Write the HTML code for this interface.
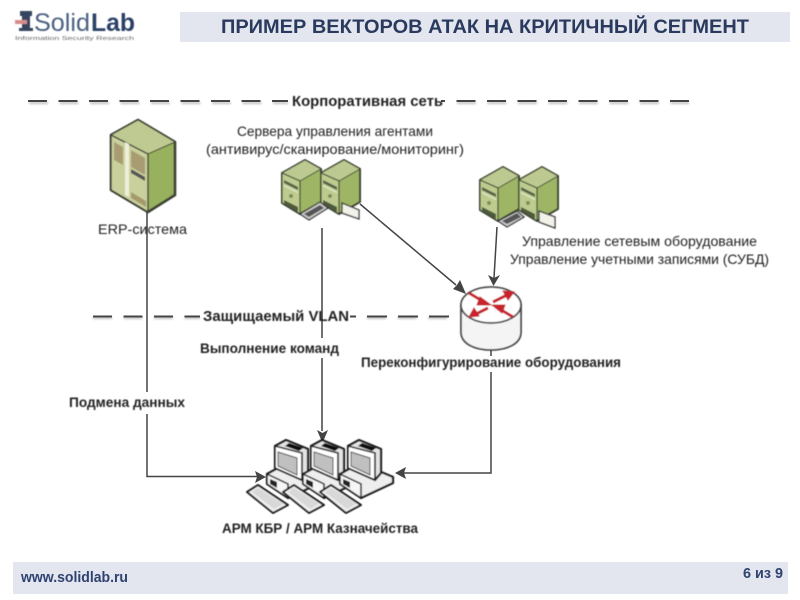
<!DOCTYPE html>
<html><head><meta charset="utf-8"><style>
html,body{margin:0;padding:0;background:#fff}
svg{display:block}
text{font-family:"Liberation Sans",sans-serif}
</style></head><body>
<svg width="800" height="600" viewBox="0 0 800 600" xmlns="http://www.w3.org/2000/svg">
<defs>
<filter id="b" x="-5%" y="-5%" width="110%" height="110%"><feGaussianBlur stdDeviation="0.4"/></filter>
<filter id="s" x="-5%" y="-200%" width="110%" height="500%"><feGaussianBlur stdDeviation="1"/></filter>
<g id="srv">
<path d="M0,13 L23,0 L39,9 L39,42 L18,54 L0,43Z" fill="#9db565" stroke="#3c4433" stroke-width="2" stroke-linejoin="round"/>
<path d="M0,13 L23,0 L39,9 L18,21Z" fill="#bcc990" stroke="#3c4433" stroke-width="1"/>
<path d="M0,13 L18,21 L18,54 L0,43Z" fill="#bdcc8e" stroke="#3c4433" stroke-width="1.200"/>
<path d="M2,20 L16,27 L16,30 L2,23Z" fill="#55604a"/>
<path d="M2,25 L16,32 L16,33 L2,26Z" fill="#eef2dc"/>
<circle cx="9" cy="36" r="2" fill="#7d8c5a"/>
<path d="M2,40 L16,47 L16,52 L2,44Z" fill="#4e5a3d"/>
</g>
<g id="pc">
<path d="M-5,33 L15,22 L48,36 L48,42 L16,57 L-5,43Z" fill="#eee" stroke="#1c1c1c" stroke-width="2.200" stroke-linejoin="round"/>
<path d="M-5,33 L16,43 L16,57 L-5,43Z" fill="#f6f6f6" stroke="#1c1c1c" stroke-width="1.500"/>
<path d="M-2,38 L5,41 L5,47 L-2,43Z" fill="#222"/>
<path d="M3,5 L14,-1 L36,8 L36,32 L30,39 L3,27Z" fill="#e4e4e4" stroke="#1c1c1c" stroke-width="2.200" stroke-linejoin="round"/>
<path d="M3,5 L30,12 L30,39 L3,27Z" fill="#fff" stroke="#1c1c1c" stroke-width="1.600"/>
<path d="M6,11 L25,17 L25,34 L6,25Z" fill="#c0c0c0" stroke="#444" stroke-width="1"/>
<path d="M17,2 L31,7 L27,10 L13,5Z" fill="#111"/>
<path d="M-25,51 L-14,44 L16,64 L1,72Z" fill="#efefef" stroke="#1c1c1c" stroke-width="2" stroke-linejoin="round"/>
<path d="M-20,51 L-14,47 L11,63 L2,68Z" fill="#d8d8d8"/>
</g>
</defs>

<rect x="180" y="12" width="610" height="30" fill="#e3e6ee"/>
<text x="221" y="33" font-size="19" font-weight="bold" fill="#2a3a5e" textLength="528" lengthAdjust="spacingAndGlyphs">ПРИМЕР ВЕКТОРОВ АТАК НА КРИТИЧНЫЙ СЕГМЕНТ</text>

<g filter="url(#b)">
<path d="M22,16 H30 V28 H22Z M19,28 H33 V31 H19Z M20,11 h12 v5 h-12Z" fill="#34455f"/>
<rect x="15" y="20" width="12" height="4" fill="#d98c8c"/>
<text x="34" y="31" font-size="25" fill="#4b6080" textLength="56" lengthAdjust="spacingAndGlyphs">Solid</text>
<text x="91" y="31" font-size="25" font-weight="bold" fill="#2a3f66" textLength="44" lengthAdjust="spacingAndGlyphs">Lab</text>
<text x="15" y="40" font-size="5.500" fill="#666" textLength="119" lengthAdjust="spacingAndGlyphs">Information Security Research</text>
</g>

<g filter="url(#s)" opacity=".5"><path d="M29,103 H288 M457,103 H689 M93,318 H200 M367,318 H449" fill="none" stroke="#777" stroke-width="2" stroke-dasharray="19 11.500"/></g>
<path d="M28,101 H288 M456.500,101 H689" fill="none" stroke="#444" stroke-width="2" stroke-dasharray="19 11.500"/>
<path d="M93,316.500 H200" fill="none" stroke="#444" stroke-width="2" stroke-dasharray="19 11.500"/>
<path d="M367,316.500 H449" fill="none" stroke="#444" stroke-width="2" stroke-dasharray="20 11"/>
<path d="M350,316.500 H356 M441,101 H445" fill="none" stroke="#444" stroke-width="2"/>

<g fill="none" stroke="#444" stroke-width="1.500">
<path d="M147,212 V392 M147,414 V476.500 H257"/>
<path d="M322,228 V338 M322,358 V431"/>
<path d="M360,204 L456,285"/>
<path d="M497,227 L494,278"/>
<path d="M491,350 V356 M491,372 V473 H404"/>
</g>
<g fill="#444">
<path d="M266,477 L255,471 L257,477 L255,483Z"/>
<path d="M322.500,443 L317,430 L322.500,433 L328,430Z"/>
<path d="M466,294 L453,289 L457,285 L460,280Z"/>
<path d="M493.500,286 L488,275 L494,278 L500,275Z"/>
<path d="M395,473 L406,467 L404,473 L406,479Z"/>
</g>

<g filter="url(#b)">
<path d="M111,135 L138,120 L175,142 L175,195 L148,212 L111,190Z" fill="#98b15f" stroke="#3a4030" stroke-width="2.600" stroke-linejoin="round"/>
<path d="M111,135 L138,120 L175,142 L148,154Z" fill="#bfca92" stroke="#3a4030" stroke-width="1"/>
<path d="M111,135 L148,154 L148,212 L111,190Z" fill="#c9d09c" stroke="#3a4030" stroke-width="1.400"/>
<path d="M125,142 L129,144 L129,197 L125,195Z" fill="#efeedd"/>
<path d="M114,142 L123,147 L123,165 L114,160Z M131,150 L145,158 L145,175 L131,167Z" fill="#a99c72"/>
<path d="M131,169 L145,177 L145,181 L131,173Z" fill="#555"/>
<path d="M131,192 L146,201 L146,207 L131,198Z" fill="#a59a6c"/>

<use href="#srv" x="282" y="160"/>
<use href="#srv" x="321" y="160"/>
<path d="M300,214 L320,202 L328,208 L309,220Z" fill="#ccc" stroke="#333" stroke-width="1.300"/>
<path d="M304,214 L320,205 L324,208 L309,217Z" fill="#555"/>
<path d="M342,203 L359,210 L359,219 L342,213Z" fill="#f2f2ea" stroke="#333" stroke-width="1.300"/>

<use href="#srv" x="480" y="167"/>
<use href="#srv" x="519" y="167"/>
<path d="M498,221 L517,211 L524,217 L507,227Z" fill="#ccc" stroke="#333" stroke-width="1.300"/>
<path d="M502,221 L517,213 L521,217 L507,224Z" fill="#555"/>
<path d="M539,211 L555,217 L555,228 L539,222Z" fill="#f2f2ea" stroke="#333" stroke-width="1.300"/>

<path d="M461,305 V332 C461,344 475,350 491,350 C507,350 521,344 521,332 V305Z" fill="#f4f4f4" stroke="#444" stroke-width="1.800"/>
<ellipse cx="491" cy="305" rx="30" ry="18" fill="#fff" stroke="#444" stroke-width="1.800"/>
<g stroke="#c8202a" stroke-width="3" fill="#c8202a">
<path d="M469,293 L484,302 M513,317 L498,308 M493,302 L507,295 M488,308 L476,314" fill="none"/>
<path d="M480,297 L491,305 L477,305Z M502,313 L492,305 L505,305Z M503,291 L514,292 L508,300Z M479,316 L469,317 L474,308Z" stroke-width="1"/>
</g>

<use href="#pc" x="272" y="441"/>
<use href="#pc" x="308" y="441"/>
<use href="#pc" x="345" y="441"/>
<g fill="#222" font-size="14">
<text x="292" y="106" font-size="14.500" font-weight="bold" textLength="151" lengthAdjust="spacingAndGlyphs">Корпоративная сеть</text>
<text x="237" y="136" textLength="196" lengthAdjust="spacingAndGlyphs">Сервера управления агентами</text>
<text x="206" y="154" textLength="258" lengthAdjust="spacingAndGlyphs">(антивирус/сканирование/мониторинг)</text>
<text x="98" y="234" textLength="89" lengthAdjust="spacingAndGlyphs">ERP-система</text>
<text x="522" y="246" textLength="235" lengthAdjust="spacingAndGlyphs">Управление сетевым оборудование</text>
<text x="510" y="264" textLength="259" lengthAdjust="spacingAndGlyphs">Управление учетными записями (СУБД)</text>
<text x="203" y="321" font-size="14.500" font-weight="bold" textLength="146" lengthAdjust="spacingAndGlyphs">Защищаемый VLAN</text>
<text x="200" y="353" font-size="13.500" font-weight="bold" textLength="139" lengthAdjust="spacingAndGlyphs">Выполнение команд</text>
<text x="361" y="367" font-size="13.500" font-weight="bold" textLength="260" lengthAdjust="spacingAndGlyphs">Переконфигурирование оборудования</text>
<text x="69" y="407" font-size="13.500" font-weight="bold" textLength="116" lengthAdjust="spacingAndGlyphs">Подмена данных</text>
<text x="222" y="533" font-size="13.500" font-weight="bold" textLength="196" lengthAdjust="spacingAndGlyphs">АРМ КБР / АРМ Казначейства</text>
</g>
</g>

<rect x="13" y="562" width="775" height="32" fill="#e3e6ee"/>
<text x="21" y="582" font-size="15" font-weight="bold" fill="#2f4270" textLength="107" lengthAdjust="spacingAndGlyphs">www.solidlab.ru</text>
<text x="743" y="578" font-size="15" font-weight="bold" fill="#2f4270" textLength="40" lengthAdjust="spacingAndGlyphs">6 из 9</text>
</svg>
</body></html>
